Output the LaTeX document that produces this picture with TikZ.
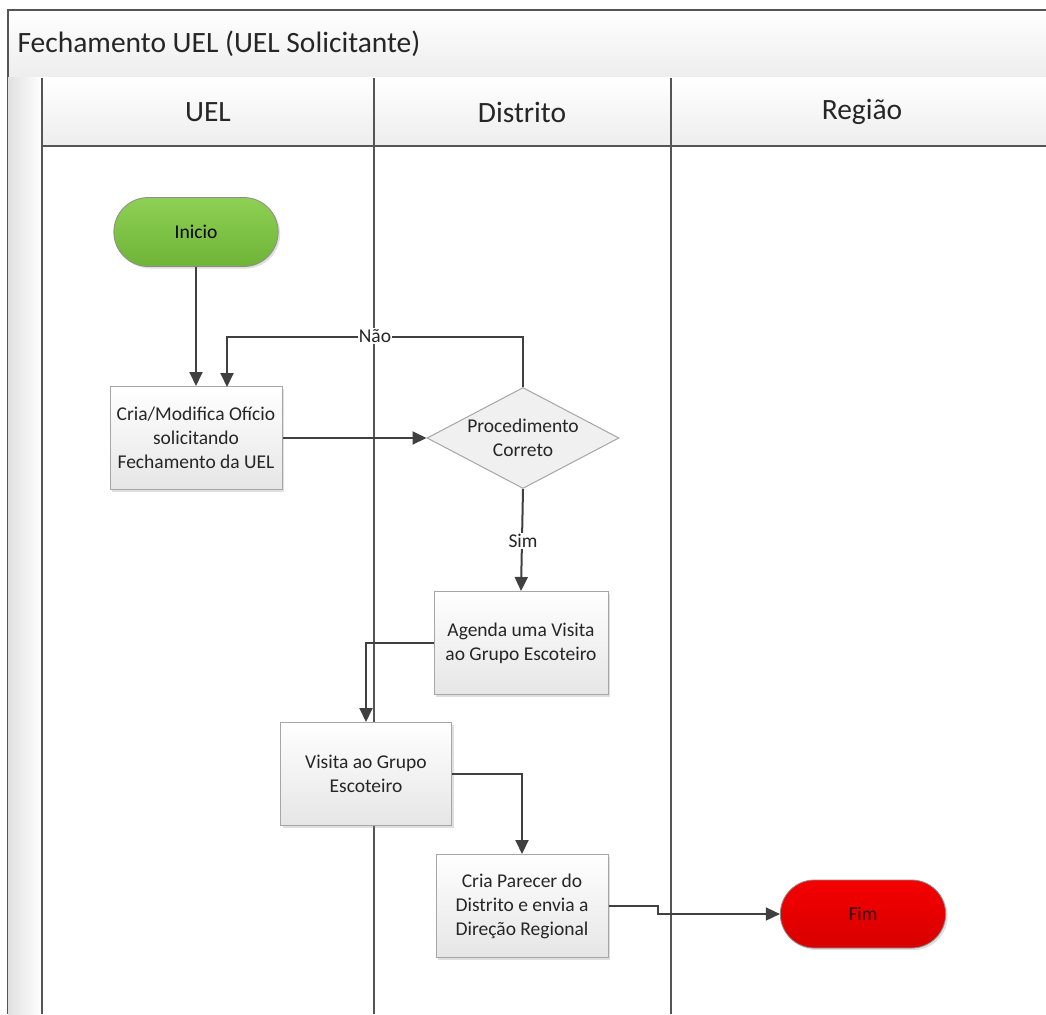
\documentclass[tikz,border=0pt]{standalone}
\usepackage{fontspec}
\setmainfont{Carlito}
\usetikzlibrary{arrows.meta,shapes.geometric,shapes.misc,shadows,calc}
\definecolor{lanecol}{HTML}{555555}
\definecolor{conn}{HTML}{404040}
\definecolor{boxline}{HTML}{A6A6A6}
\tikzset{
  conline/.style={draw=conn, line width=2pt, -{Triangle[length=14pt,width=13pt]}},
  procbox/.style={rectangle, draw=boxline, line width=1pt, top color=white, bottom color=black!10,
     minimum width=172pt, minimum height=103pt, align=center, font=\fontsize{19.5}{24}\selectfont,
     text=black!85, drop shadow={shadow xshift=2pt, shadow yshift=-2pt, opacity=0.25}},
  decbox/.style={diamond, draw=boxline, line width=1pt, fill=black!6, aspect=1.9,
     minimum width=192pt, minimum height=101pt, inner sep=0pt, align=center,
     font=\fontsize{19.5}{24}\selectfont, text=black!85},
  termbox/.style={rounded rectangle, draw=black!45, line width=0.8pt, minimum height=69pt,
     minimum width=171pt, font=\fontsize{19.5}{24}\selectfont,
     drop shadow={shadow xshift=2pt, shadow yshift=-2pt, opacity=0.25}},
  hdr/.style={font=\fontsize{29.5}{34}\selectfont, text=black!85},
  lbl/.style={fill=white, inner sep=1pt, font=\fontsize{19.5}{24}\selectfont, text=black!85},
}
\begin{document}
\begin{tikzpicture}[x=1pt,y=-1pt]
\useasboundingbox (0,0) rectangle (1046,1014);
\fill[white] (0,0) rectangle (1046,1014);
% title bar
\shade[top color=white, bottom color=black!7] (8,10) rectangle (1046,78);
\draw[lanecol, line width=1.5pt] (1046,10) -- (8,10) -- (8,1014);
\draw[lanecol, line width=1.5pt] (8,78) -- (1046,78);
\node[hdr, anchor=west] (title) at (14,44) {Fechamento UEL (UEL Solicitante)};
% left strip
\shade[left color=black!12, right color=white] (8,78) rectangle (42,1014);
% lane headers
\shade[top color=white, bottom color=black!7] (42,78) rectangle (1046,146);
\draw[lanecol, line width=1.5pt] (42,146) -- (1046,146);
\node[hdr] (h1) at (208,112) {UEL};
\node[hdr] (h2) at (522,112) {Distrito};
\node[hdr] (h3) at (862,112) {Região};
% lane lines
\draw[lanecol, line width=2pt] (42,78) -- (42,1014);
\draw[lanecol, line width=2pt] (374,78) -- (374,1014);
\draw[lanecol, line width=2pt] (671,78) -- (671,1014);
% nodes
\node[termbox, shade, top color={rgb,255:red,142;green,208;blue,84}, bottom color={rgb,255:red,110;green,180;blue,55}]
      (inicio) at (196,232) {Inicio};
\node[procbox] (cria) at (196,438) {Cria/Modifica Ofício\\solicitando\\Fechamento da UEL};
\node[decbox] (dec) at (523,438) {Procedimento\\Correto};
\node[procbox, minimum width=174pt] (agenda) at (521,643) {Agenda uma Visita\\ao Grupo Escoteiro};
\node[procbox, minimum width=171pt] (visita) at (366,774) {Visita ao Grupo\\Escoteiro};
\node[procbox] (parecer) at (522,906) {Cria Parecer do\\Distrito e envia a\\Direção Regional};
\node[termbox, shade, top color={rgb,255:red,245;green,0;blue,0}, bottom color={rgb,255:red,215;green,0;blue,0},
      minimum width=172pt, minimum height=68pt, text=black!80!red] (fim) at (863,914) {Fim};
% connectors
\draw[conline] (inicio.south) -- (cria.north);
\coordinate (n1) at (523,337);
\coordinate (n2) at (227,337);
\draw[conline] (dec.north) -- (n1) -- (n2) -- (227,387);
\draw[conline] (cria.east) -- (dec.west);
\draw[conline] (dec.south) -- (agenda.north);
\coordinate (a1) at (366,643);
\draw[conline] (agenda.west) -- (a1) -- (visita.north);
\coordinate (v1) at (522,774);
\draw[conline] (visita.east) -- (v1) -- (parecer.north);
\coordinate (p1) at (658,906);
\coordinate (p2) at (658,914);
\draw[conline, line width=1.5pt] (parecer.east) -- (p1) -- (p2) -- (fim.west);
% labels
\node[lbl] (nao) at (375,336) {Não};
\node[lbl] (sim) at (523,541) {Sim};
\end{tikzpicture}
\end{document}
